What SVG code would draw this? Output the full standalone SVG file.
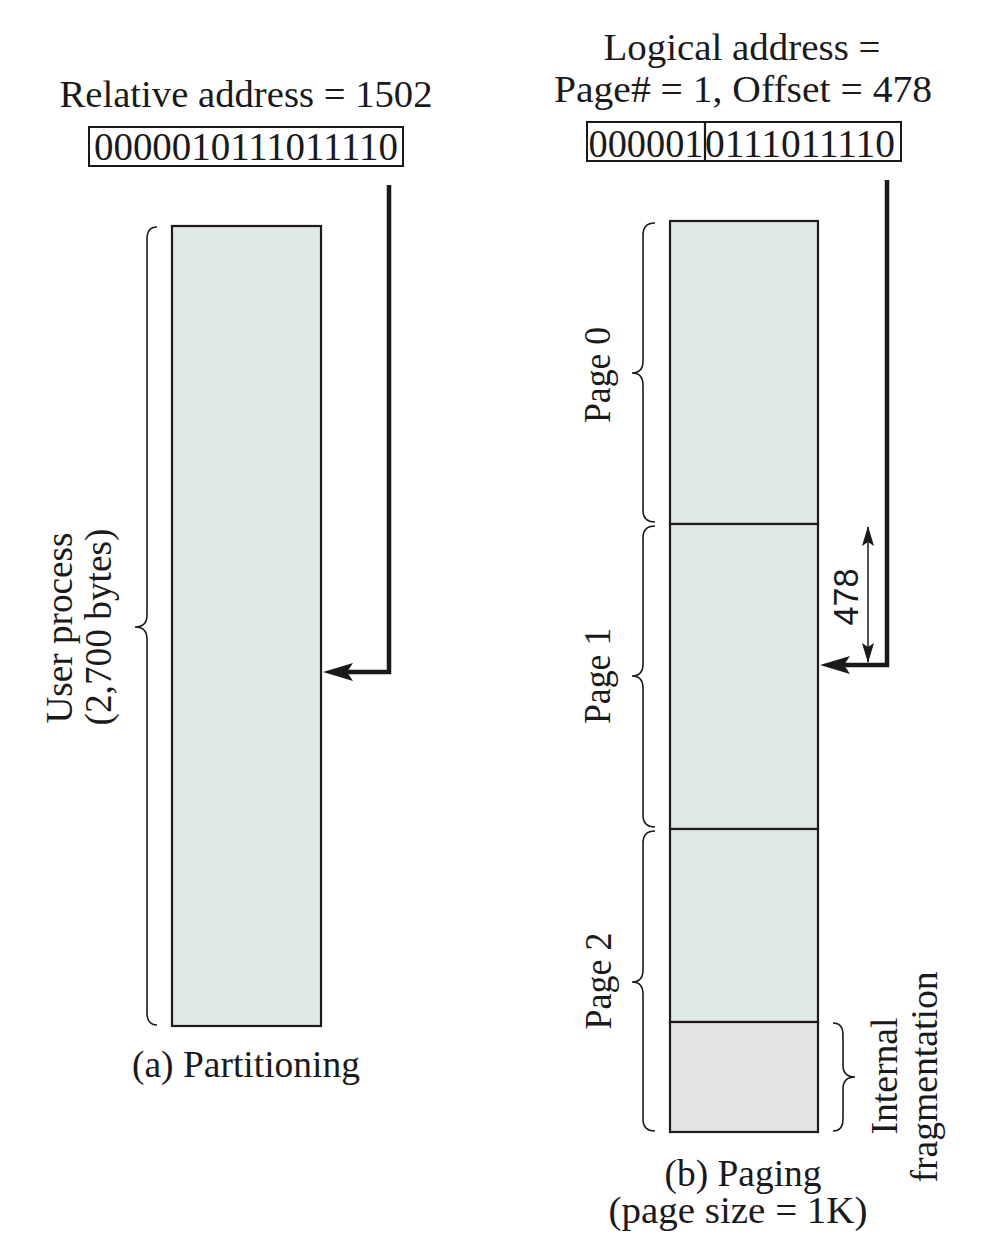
<svg xmlns="http://www.w3.org/2000/svg" width="982" height="1258" viewBox="0 0 982 1258">
<style>
  .t { font-family: "Liberation Serif", "Times New Roman", serif; fill: #1a1a1a; }
  .s { font-family: "Liberation Sans", Arial, sans-serif; fill: #1a1a1a; }
  .box { fill: none; stroke: #1a1a1a; stroke-width: 2; }
  .mem { fill: #dfe8e5; stroke: #1a1a1a; stroke-width: 2.2; }
  .frag { fill: #e3e3e3; stroke: #1a1a1a; stroke-width: 2.2; }
  .div { stroke: #1a1a1a; stroke-width: 2.2; }
  .brace { fill: none; stroke: #1a1a1a; stroke-width: 1.6; }
  .big { fill: none; stroke: #1a1a1a; stroke-width: 4.5; stroke-linejoin: miter; }
  .dim { fill: none; stroke: #1a1a1a; stroke-width: 1.5; }
</style>
<defs>
  <marker id="bigArrow" markerUnits="userSpaceOnUse" markerWidth="32" markerHeight="20" refX="10" refY="0" viewBox="0 -10 32 20" orient="auto" overflow="visible">
    <path d="M0,-9 L30,0 L0,9 L6,0 Z" fill="#1a1a1a"/>
  </marker>
  <marker id="smallArrow" markerUnits="userSpaceOnUse" markerWidth="22" markerHeight="14" refX="19" refY="0" viewBox="0 -7 22 14" orient="auto-start-reverse" overflow="visible">
    <path d="M0,-6 L20,0 L0,6 L4,0 Z" fill="#1a1a1a"/>
  </marker>
</defs>
<rect width="982" height="1258" fill="#ffffff"/>

<!-- (a) Partitioning -->
<g id="relative-address">
  <text class="t" x="246" y="107" font-size="38" text-anchor="middle" textLength="373" lengthAdjust="spacingAndGlyphs">Relative address = 1502</text>
  <rect class="box" x="89" y="127" width="314" height="39"/>
  <text class="t" x="246" y="160" font-size="40" text-anchor="middle" textLength="304" lengthAdjust="spacingAndGlyphs">0000010111011110</text>
</g>

<g id="user-process">
  <rect class="mem" x="172" y="226" width="149" height="800"/>
  <path class="brace" d="M157,227 Q147,227 147,239 L147,615 Q147,627 135,627 Q147,627 147,639 L147,1013 Q147,1025 157,1025"/>
  <text class="t" transform="translate(72,628) rotate(-90)" font-size="38" text-anchor="middle" textLength="191" lengthAdjust="spacingAndGlyphs">User process</text>
  <text class="t" transform="translate(111,627) rotate(-90)" font-size="38" text-anchor="middle" textLength="197" lengthAdjust="spacingAndGlyphs">(2,700 bytes)</text>
</g>

<g id="caption-a">
  <text class="t" x="246" y="1077" font-size="37" text-anchor="middle" textLength="228" lengthAdjust="spacingAndGlyphs">(a) Partitioning</text>
</g>

<!-- (b) Paging -->
<g id="logical-address">
  <text class="t" x="742" y="60" font-size="38" text-anchor="middle" textLength="277" lengthAdjust="spacingAndGlyphs">Logical address =</text>
  <text class="t" x="743" y="102" font-size="38" text-anchor="middle" textLength="378" lengthAdjust="spacingAndGlyphs">Page# = 1, Offset = 478</text>
  <rect class="box" x="587" y="122" width="314" height="39"/>
  <line class="div" x1="705" y1="122" x2="705" y2="161" stroke-width="2"/>
  <text class="t" x="646" y="157" font-size="40" text-anchor="middle" textLength="115" lengthAdjust="spacingAndGlyphs">000001</text>
  <text class="t" x="800" y="157" font-size="40" text-anchor="middle" textLength="190" lengthAdjust="spacingAndGlyphs">0111011110</text>
</g>

<g id="page-0">
  <rect class="mem" x="670" y="221" width="148" height="303"/>
  <path class="brace" d="M655,223 Q643,223 643,235 L643,361 Q643,373 632,373 Q643,373 643,385 L643,510 Q643,522 655,522"/>
  <text class="t" transform="translate(610,375) rotate(-90)" font-size="37" text-anchor="middle" textLength="96" lengthAdjust="spacingAndGlyphs">Page 0</text>
</g>

<g id="page-1">
  <rect class="mem" x="670" y="524" width="148" height="305"/>
  <path class="brace" d="M655,526 Q643,526 643,538 L643,664 Q643,676 632,676 Q643,676 643,688 L643,815 Q643,827 655,827"/>
  <text class="t" transform="translate(610,676) rotate(-90)" font-size="37" text-anchor="middle" textLength="96" lengthAdjust="spacingAndGlyphs">Page 1</text>
</g>

<g id="page-2">
  <rect class="mem" x="670" y="829" width="148" height="193"/>
  <rect class="frag" x="670" y="1022" width="148" height="110"/>
  <path class="brace" d="M655,831 Q643,831 643,843 L643,970 Q643,982 632,982 Q643,982 643,994 L643,1119 Q643,1131 655,1131"/>
  <text class="t" transform="translate(611,981) rotate(-90)" font-size="37" text-anchor="middle" textLength="97" lengthAdjust="spacingAndGlyphs">Page 2</text>
</g>

<g id="internal-fragmentation">
  <path class="brace" d="M833,1023 Q843,1023 843,1035 L843,1065 Q843,1077 855,1077 Q843,1077 843,1089 L843,1119 Q843,1131 833,1131"/>
  <text class="t" transform="translate(897,1076) rotate(-90)" font-size="37" text-anchor="middle" textLength="117" lengthAdjust="spacingAndGlyphs">Internal</text>
  <text class="t" transform="translate(937,1077) rotate(-90)" font-size="37" text-anchor="middle" textLength="211" lengthAdjust="spacingAndGlyphs">fragmentation</text>
</g>

<g id="caption-b">
  <text class="t" x="743" y="1186" font-size="37" text-anchor="middle" textLength="157" lengthAdjust="spacingAndGlyphs">(b) Paging</text>
  <text class="t" x="738" y="1223" font-size="37" text-anchor="middle" textLength="259" lengthAdjust="spacingAndGlyphs">(page size = 1K)</text>
</g>

<!-- connectors -->
<g id="connectors">
  <path class="big" d="M389,185 L389,672 L343,672" marker-end="url(#bigArrow)"/>
  <path class="big" d="M887,180 L887,665 L840,665" marker-end="url(#bigArrow)"/>
  <path class="dim" d="M868,527 L868,662" marker-start="url(#smallArrow)" marker-end="url(#smallArrow)"/>
  <text class="s" transform="translate(858,597) rotate(-90)" font-size="35" text-anchor="middle" textLength="57" lengthAdjust="spacingAndGlyphs">478</text>
</g>
</svg>
